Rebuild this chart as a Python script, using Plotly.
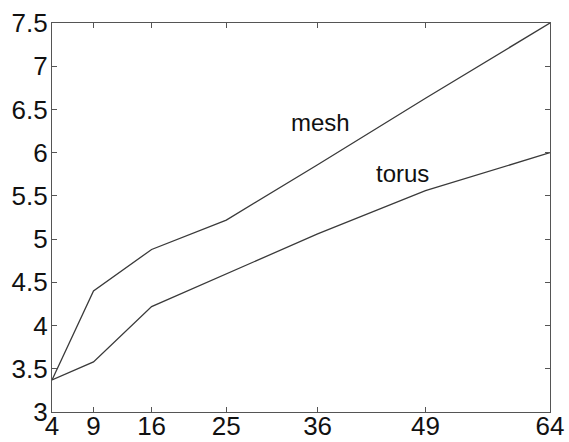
import plotly.graph_objects as go

nodes = [4, 9, 16, 25, 36, 49, 64]
mesh = [3.37, 4.40, 4.88, 5.22, 5.86, 6.63, 7.5]
torus = [3.37, 3.58, 4.22, 4.60, 5.06, 5.56, 6.0]
y_ticks = [3, 3.5, 4, 4.5, 5, 5.5, 6, 6.5, 7, 7.5]
y_labels = ["3", "3.5", "4", "4.5", "5", "5.5", "6", "6.5", "7", "7.5"]

line_color = "#3a3a3a"
fig = go.Figure()
fig.add_trace(go.Scatter(x=nodes, y=mesh, mode="lines", name="mesh",
                         line=dict(color=line_color, width=1.3)))
fig.add_trace(go.Scatter(x=nodes, y=torus, mode="lines", name="torus",
                         line=dict(color=line_color, width=1.3)))

fig.add_annotation(x=36.3, y=6.35, text="mesh", showarrow=False,
                   font=dict(family="Liberation Sans, Arial", size=24, color="#111"))
fig.add_annotation(x=46.2, y=5.76, text="torus", showarrow=False,
                   font=dict(family="Liberation Sans, Arial", size=24, color="#111"))

axis_common = dict(
    showgrid=False, zeroline=False, showline=True, linecolor="#555", linewidth=1.2,
    mirror="ticks", ticks="inside", ticklen=5, tickcolor="#555", tickwidth=1,
    tickfont=dict(family="Liberation Sans, Arial", size=26, color="#111"),
    automargin=False,
)
fig.update_xaxes(range=[4, 64], tickvals=nodes, ticktext=[str(n) for n in nodes],
                 ticklabelstandoff=-9, **axis_common)
fig.update_yaxes(range=[3, 7.5], tickvals=y_ticks, ticktext=y_labels,
                 ticklabelstandoff=-2, **axis_common)

fig.update_layout(
    width=569, height=442,
    margin=dict(l=52, r=19, t=23, b=30),
    plot_bgcolor="white", paper_bgcolor="white",
    showlegend=False,
)
fig.write_html("out.html", config={"displayModeBar": False},
               post_script="document.body.style.margin='0';document.body.style.overflow='hidden';")
